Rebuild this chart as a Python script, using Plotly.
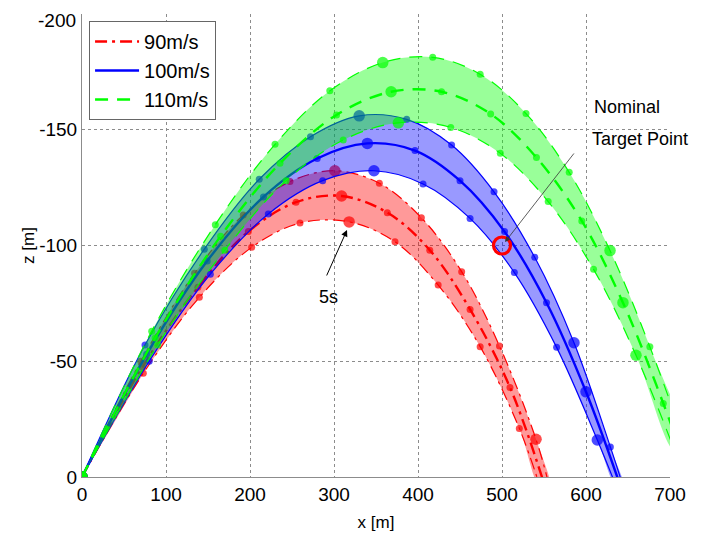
import plotly.graph_objects as go

# ---------------- data (dots at 1 s intervals, t = 0,1,2,...) ----------------
# 90 m/s
red_upper_x = [0, 70, 134, 192, 247.6, 301, 354, 404, 452, 497, 540.5]
red_upper_z = [0, -50, -88, -113.2, -127.6, -132.3, -126.9, -112, -88.7, -56.6, -16.3]
red_upper_end = (557, 5)
red_center_x = [0, 72, 138, 198, 254.8, 309, 363.5, 414, 462, 509.5]
red_center_z = [0, -47.5, -82, -106, -118.7, -121.4, -114.2, -98, -72.4, -38.7]
red_center_end = (552, 5)
red_lower_x = [0, 73, 139.7, 202, 259.5, 318, 372.6, 424, 474, 520.6]
red_lower_z = [0, -44.8, -77.6, -99.2, -109.7, -110.2, -101.6, -82.9, -56.3, -21]
red_lower_end = (546, 5)

# 100 m/s
blue_upper_x = [0, 75, 145.6, 211, 272, 330, 386.5, 440, 490.5, 539, 585.7, 629]
blue_upper_z = [0, -57, -98.4, -128.6, -147, -156, -154.5, -143.4, -123.2, -94.9, -58, -13]
blue_upper_end = (645, 5)
blue_center_x = [0, 77, 149, 216, 280, 339.7, 396.4, 450, 503, 553, 600]
blue_center_z = [0, -53, -93.3, -121, -137.6, -144.1, -141, -128, -106, -75.3, -36.8]
blue_center_end = (642, 5)
blue_lower_x = [0, 80, 152.8, 221.8, 286.5, 347.6, 406, 462, 514.7, 565, 613.5]
blue_lower_z = [0, -50, -87.6, -113.6, -128, -132.3, -126.6, -111.7, -88.3, -56, -16]
blue_lower_end = (637, 5)

# 110 m/s
green_upper_x = [0, 83, 158.7, 229.8, 295, 358, 417.5, 474, 528.6, 580, 628.6, 676, 722]
green_upper_z = [0, -63, -109, -143.7, -166.8, -179, -181.3, -174, -157, -131.6, -97.8, -56.3, -10]
green_center_x = [0, 87, 165, 235.7, 303, 368, 428, 486.5, 541, 595, 644, 692, 738]
green_center_z = [0, -60, -104, -135.5, -156.4, -166.4, -166.4, -156.8, -138, -110.6, -75.3, -31.8, 15]
green_lower_x = [0, 90, 170, 243, 311, 376.6, 439, 498, 555, 609, 659.5, 707]
green_lower_z = [0, -57, -98, -128, -145.6, -153, -151, -139.8, -119, -89.7, -52.6, -10]

speed_labels = ["90m/s", "100m/s", "110m/s"]
target_x = [500]
target_z = [-100]

x_ticks = [0, 100, 200, 300, 400, 500, 600, 700]
z_ticks = [0, -50, -100, -150, -200]
z_tick_text = ["0", "-50", "-100", "-150", "-200"]

# ---------------- figure ----------------
fig = go.Figure()

FONT = "Liberation Sans, Arial, sans-serif"
DASH_RED = "12px,5px,3px,5px"
DASH_GREEN = "13px,9px"


def add_speed(upper, center, lower, color, fillcolor, dash, ends=None):
    ux, uz = list(upper[0]), list(upper[1])
    cx, cz = list(center[0]), list(center[1])
    lx, lz = list(lower[0]), list(lower[1])
    nu, nc, nl = len(ux), len(cx), len(lx)
    if ends is not None:
        for arrx, arrz, e in ((ux, uz, ends[0]), (cx, cz, ends[1]), (lx, lz, ends[2])):
            arrx.append(e[0])
            arrz.append(e[1])
    # band
    fig.add_trace(go.Scatter(
        x=ux + lx[::-1][:-1], y=uz + lz[::-1][:-1], fill="toself",
        fillcolor=fillcolor, mode="none", line=dict(shape="spline"),
        showlegend=False, hoverinfo="skip"))

    def sizes(n_dots, n_all):
        s = [11.5 if i % 5 == 0 else 7 for i in range(n_dots)]
        return s + [0] * (n_all - n_dots)

    for (xx, zz, nd) in ((lx, lz, nl), (ux, uz, nu)):
        fig.add_trace(go.Scatter(
            x=xx, y=zz, mode="lines+markers",
            line=dict(color=color, width=1.2, dash=dash, shape="spline"),
            marker=dict(color=color, size=sizes(nd, len(xx)), line=dict(width=0)),
            showlegend=False, hoverinfo="skip"))
    fig.add_trace(go.Scatter(
        x=cx, y=cz, mode="lines+markers",
        line=dict(color=color, width=2.4, dash=dash, shape="spline"),
        marker=dict(color=color, size=sizes(nc, len(cx)), line=dict(width=0)),
        showlegend=False, hoverinfo="skip"))


add_speed((red_upper_x, red_upper_z), (red_center_x, red_center_z), (red_lower_x, red_lower_z),
          "#FF0000", "rgba(255,0,0,0.4)", DASH_RED,
          ends=(red_upper_end, red_center_end, red_lower_end))
add_speed((blue_upper_x, blue_upper_z), (blue_center_x, blue_center_z), (blue_lower_x, blue_lower_z),
          "#0000FF", "rgba(0,0,255,0.4)", "solid",
          ends=(blue_upper_end, blue_center_end, blue_lower_end))
add_speed((green_upper_x, green_upper_z), (green_center_x, green_center_z), (green_lower_x, green_lower_z),
          "#00FF00", "rgba(0,255,0,0.4)", DASH_GREEN)

# target point
fig.add_trace(go.Scatter(
    x=target_x, y=target_z, mode="markers",
    marker=dict(symbol="circle-open", size=17, color="#FF0000", line=dict(width=3.2, color="#FF0000")),
    showlegend=False, hoverinfo="skip"))

# legend entries
for name, color, dash in zip(speed_labels, ["#FF0000", "#0000FF", "#00FF00"], [DASH_RED, "solid", DASH_GREEN]):
    fig.add_trace(go.Scatter(x=[None], y=[None], mode="lines", name=name,
                             line=dict(color=color, width=2.4, dash=dash)))

# annotations
fig.add_annotation(x=315.5, y=-106.7, ax=290.5, ay=-86.4, xref="x", yref="y", axref="x", ayref="y",
                   text="", showarrow=True, arrowhead=2, arrowsize=1.3, arrowwidth=1,
                   arrowcolor="#000000")
fig.add_annotation(x=294, y=-77.8, xref="x", yref="y", text="5s", showarrow=False,
                   font=dict(size=18, color="black", family=FONT))
fig.add_annotation(x=503.6, y=-101.5, ax=587, ay=-140.4, xref="x", yref="y", axref="x", ayref="y",
                   text="", showarrow=True, arrowhead=2, arrowsize=1.3, arrowwidth=0.8,
                   arrowcolor="#333333")
fig.add_annotation(x=648.8, y=-159.8, xref="x", yref="y", text="Nominal", showarrow=False,
                   font=dict(size=18, color="black", family=FONT))
fig.add_annotation(x=664.3, y=-146, xref="x", yref="y", text="Target Point", showarrow=False,
                   font=dict(size=18, color="black", family=FONT))
# top tick label drawn as annotation so it stays inside the page
fig.add_annotation(x=0, y=1, xref="paper", yref="paper", xanchor="right", yanchor="top",
                   xshift=-4, yshift=6, text=z_tick_text[-1], showarrow=False,
                   font=dict(size=19, color="black", family=FONT))

axis_common = dict(
    showgrid=True, gridcolor="#8c8c8c", griddash="dot", gridwidth=1,
    showline=True, linecolor="#8c8c8c", linewidth=1, mirror=False,
    zeroline=False, ticks="", automargin=False,
    tickfont=dict(size=19, color="black", family=FONT),
)
fig.update_xaxes(range=[0, 700], tickvals=x_ticks, ticktext=[str(v) for v in x_ticks],
                 title=dict(text="x [m]", font=dict(size=17, color="black", family=FONT), standoff=12),
                 **axis_common)
fig.update_yaxes(range=[0, -200], tickvals=z_ticks, ticktext=z_tick_text[:-1] + [""],
                 title=dict(text="z [m]", font=dict(size=17, color="black", family=FONT), standoff=0),
                 **axis_common)

fig.update_layout(
    width=708, height=538,
    margin=dict(l=74, r=46, t=6, b=69),
    paper_bgcolor="white", plot_bgcolor="white",
    font=dict(family=FONT, color="black"),
    legend=dict(x=0.012, y=0.985, xanchor="left", yanchor="top",
                bgcolor="white", bordercolor="#666666", borderwidth=1, itemwidth=44,
                font=dict(size=20, color="black", family=FONT), traceorder="normal"),
)

fig.write_html("out.html")
